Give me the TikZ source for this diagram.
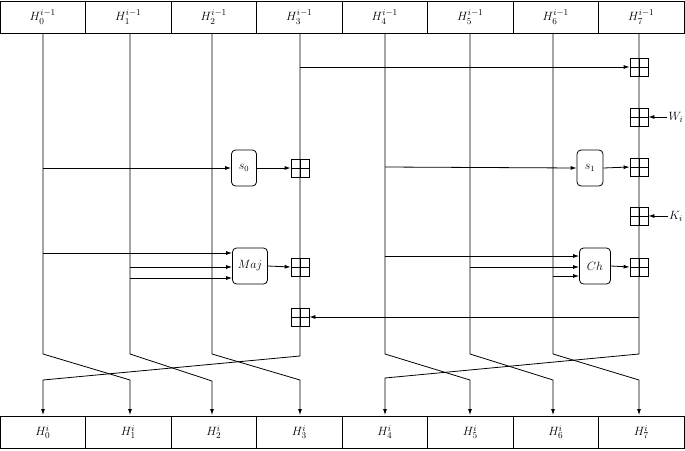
\documentclass[tikz,border=0pt]{standalone}
\usetikzlibrary{arrows.meta}
\begin{document}
\begin{tikzpicture}[x=1pt,y=-1pt,line width=0.8pt,
  cell/.style={draw,minimum width=85.5pt,minimum height=32pt,inner sep=0pt,font=\fontsize{13}{15}\selectfont},
  adder/.style={draw,minimum size=18pt,inner sep=0pt,path picture={\draw (path picture bounding box.north)--(path picture bounding box.south) (path picture bounding box.west)--(path picture bounding box.east);}},
  func/.style={draw,rounded corners=4pt,minimum height=36pt,inner sep=2pt,font=\fontsize{12}{14}\selectfont},
  arr/.style={-{Latex[length=6pt,width=4pt]}}]
\useasboundingbox (0,0) rectangle (685,450);
\foreach \i in {0,...,7}{
  \node[cell] (t\i) at ({42.75+85.5*\i},17) {$H_{\i}^{i-1}$};
  \node[cell] (b\i) at ({42.75+85.5*\i},432) {$H_{\i}^{i}$};
}
\def\xa{43}\def\xb{130}\def\xc{212}\def\xd{300}
\def\xe{385}\def\xf{470}\def\xg{553}\def\xh{639}
\node[adder] (a0) at (\xd,168) {};
\node[adder] (a1) at (\xd,267) {};
\node[adder] (a2) at (\xd,317) {};
\node[adder] (r0) at (\xh,67) {};
\node[adder] (r1) at (\xh,117) {};
\node[adder] (r2) at (\xh,167) {};
\node[adder] (r3) at (\xh,216) {};
\node[adder] (r4) at (\xh,267) {};
\node[func,minimum width=25pt] (s0) at (244,168) {$s_0$};
\node[func,minimum width=35pt] (maj) at (250,266) {$Maj$};
\node[func,minimum width=26pt] (s1) at (590,168) {$s_1$};
\node[func,minimum width=31pt] (ch) at (595,266) {$Ch$};
\node[font=\fontsize{13}{15}\selectfont,inner sep=1pt] (w) at (676,117) {$W_i$};
\node[font=\fontsize{13}{15}\selectfont,inner sep=1pt] (k) at (676,216) {$K_i$};
\draw[arr] (\xa,33) -- (\xa,354) -- (\xb,380) -- (\xb,415);
\draw[arr] (\xb,33) -- (\xb,354) -- (\xc,381) -- (\xc,415);
\draw[arr] (\xc,33) -- (\xc,354) -- (\xd,380) -- (\xd,415);
\draw[arr] (\xd,33) -- (\xd,356) -- (\xa,380) -- (\xa,415);
\draw[arr] (\xe,33) -- (\xe,354) -- (\xf,380) -- (\xf,415);
\draw[arr] (\xf,33) -- (\xf,354) -- (\xg,380) -- (\xg,415);
\draw[arr] (\xg,33) -- (\xg,354) -- (\xh,380) -- (\xh,415);
\draw[arr] (\xh,33) -- (\xh,354) -- (\xe,378) -- (\xe,415);
\draw[arr] (\xd,67) -- (r0.west);
\draw[arr] (\xa,168) -- (s0.west);
\draw[arr] (s0.east) -- (a0.west);
\draw[arr] (\xa,253) -- (maj.west |- 0,253);
\draw[arr] (\xb,267) -- (maj.west |- 0,267);
\draw[arr] (\xb,278) -- (maj.west |- 0,278);
\draw[arr] (maj.east) -- (a1.west);
\draw[arr] (\xe,167) -- (s1.west);
\draw[arr] (s1.east) -- (r2.west);
\draw[arr] (\xe,256) -- (ch.west |- 0,256);
\draw[arr] (\xf,267) -- (ch.west |- 0,267);
\draw[arr] (\xg,276) -- (ch.west |- 0,276);
\draw[arr] (ch.east) -- (r4.west);
\draw[arr] (\xh,317) -- (a2.east);
\draw[arr] (w.west) -- (r1.east);
\draw[arr] (k.west) -- (r3.east);
\end{tikzpicture}
\end{document}
